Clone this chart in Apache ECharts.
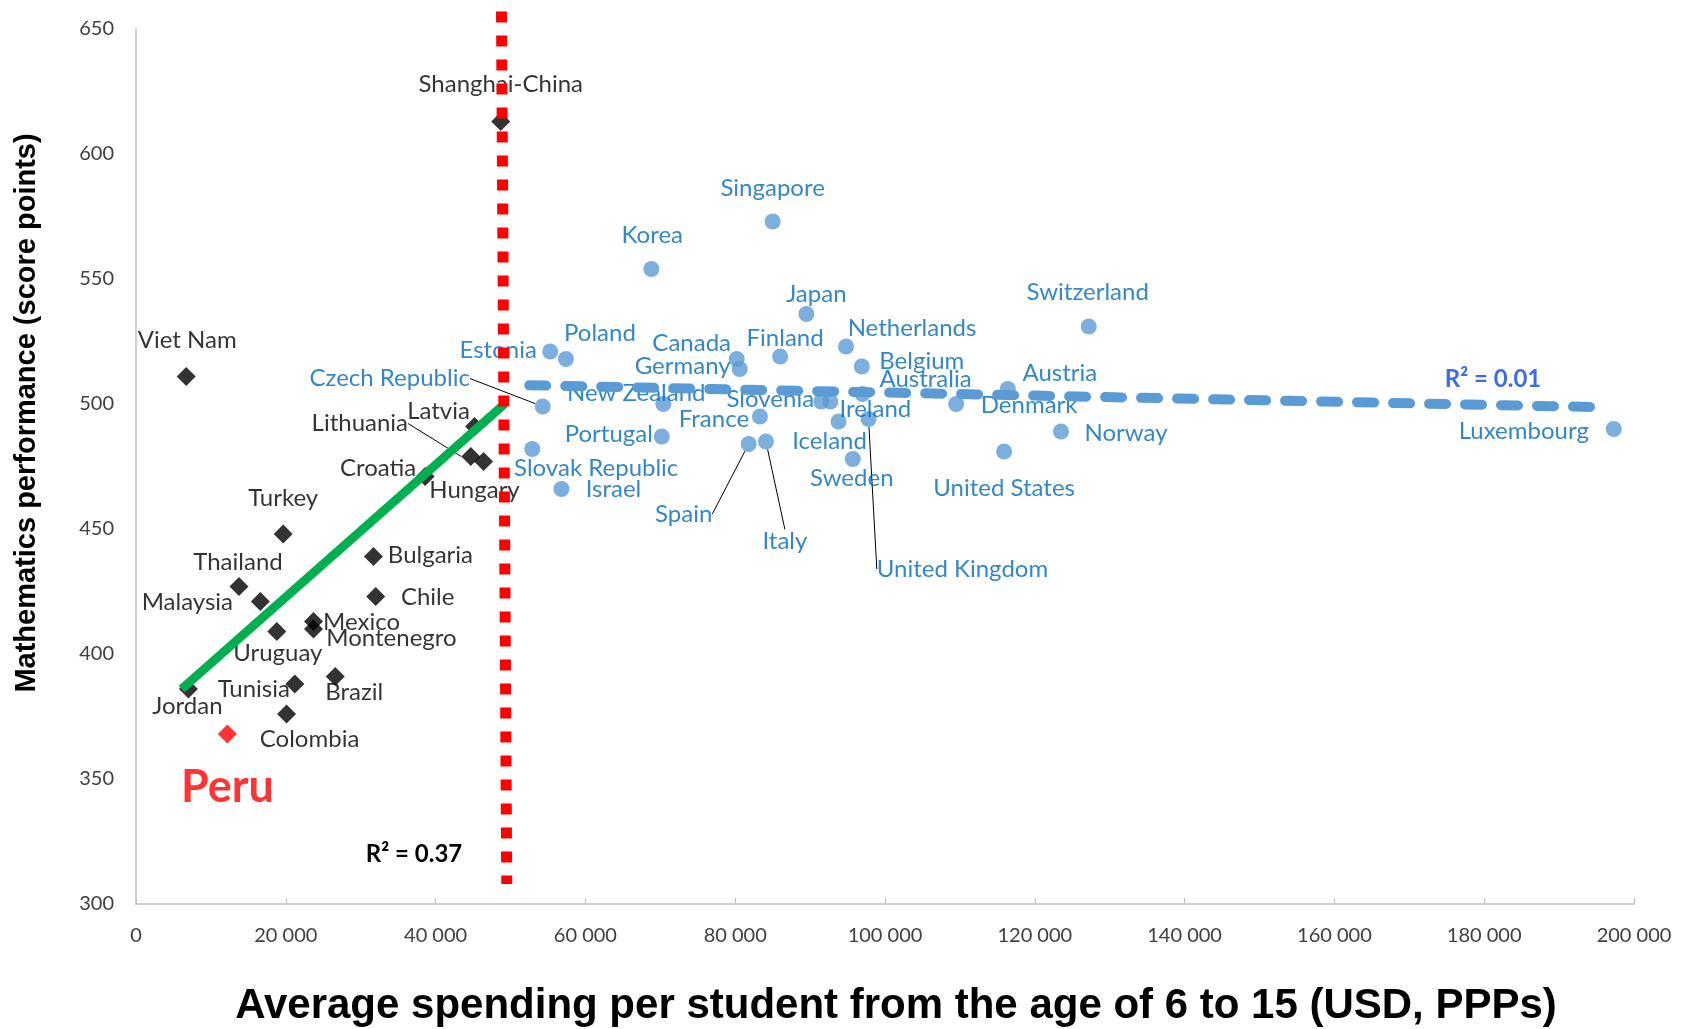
<!DOCTYPE html>
<html>
<head>
<meta charset="utf-8">
<title>Maths performance vs spending per student</title>
<script src="https://cdn.jsdelivr.net/npm/echarts@6/dist/echarts.min.js"></script>
<style>
  html, body { margin: 0; padding: 0; background: #fff; }
  #chart { width: 1690px; height: 1029px; }
</style>
</head>
<body>
<div id="chart"></div>
<script>
// countries above the spending threshold (blue dots)
const blueNames = ['Singapore', 'Korea', 'Japan', 'Switzerland', 'Netherlands', 'Estonia', 'Poland', 'Canada',
  'Finland', 'Germany', 'Belgium', 'Australia', 'Austria', 'Czech Republic', 'New Zealand', 'Slovenia', 'Ireland',
  'Denmark', 'France', 'Portugal', 'United Kingdom', 'Iceland', 'Norway', 'Luxembourg', 'Slovak Republic', 'Israel',
  'Sweden', 'United States', 'Spain', 'Italy'];
const blueSpend = [85000, 68800, 89500, 127200, 94800, 55300, 57400, 80200,
  86000, 80600, 96900, 97000, 116400, 54300, 70400, 91500, 92700,
  109500, 83300, 70200, 97800, 93800, 123500, 197300, 52900, 56800,
  95700, 115900, 81800, 84100];
const blueMath = [573, 554, 536, 531, 523, 521, 518, 518,
  519, 514, 515, 504, 506, 499, 500, 501, 501,
  500, 495, 487, 494, 493, 489, 490, 482, 466,
  478, 481, 484, 485];

// countries below the threshold (black diamonds)
const blackNames = ['Shanghai-China', 'Viet Nam', 'Latvia', 'Lithuania', 'Hungary', 'Croatia', 'Turkey', 'Thailand',
  'Malaysia', 'Uruguay', 'Mexico', 'Montenegro', 'Bulgaria', 'Chile', 'Brazil', 'Tunisia', 'Jordan', 'Colombia'];
const blackSpend = [48700, 6700, 45200, 44700, 46400, 38600, 19650, 13750,
  16600, 18800, 23700, 23700, 31700, 32000, 26600, 21200, 7000, 20100];
const blackMath = [613, 511, 491, 479, 477, 471, 448, 427,
  421, 409, 413, 410, 439, 423, 391, 388, 386, 376];

const peruSpend = [12200];
const peruMath = [368];

// trend lines and threshold
const lowTrend = [[6100, 386], [49200, 500]];
const highTrend = [[52500, 507.5], [196000, 498.7]];
const threshold = [[48800, 657], [49500, 308]];

const xTicks = { min: 0, max: 200000, step: 20000 };
const yTicks = { min: 300, max: 650, step: 50 };

// label placement (px offsets from the marker)
const labelOffset = {
  'Shanghai-China': [0, -37], 'Viet Nam': [1, -36], 'Latvia': [-36, -15], 'Lithuania': [-111, -33],
  'Hungary': [-9, 29], 'Croatia': [-47, -8], 'Turkey': [0, -36], 'Thailand': [-1, -24],
  'Malaysia': [-73, 1], 'Uruguay': [1, 22], 'Mexico': [48, 1], 'Montenegro': [78, 9],
  'Bulgaria': [57, -1], 'Chile': [52, 1], 'Brazil': [19, 16], 'Tunisia': [-41, 5],
  'Jordan': [-1, 17], 'Colombia': [23, 25],
  'Singapore': [0, -33], 'Korea': [1, -34], 'Japan': [10, -20], 'Switzerland': [-1, -34],
  'Netherlands': [66, -18], 'Estonia': [-52, -1], 'Poland': [34, -26], 'Canada': [-45, -16],
  'Finland': [5, -18], 'Germany': [-57, -3], 'Belgium': [60, -5], 'Australia': [63, -15],
  'Austria': [52, -16], 'Czech Republic': [-153, -28], 'New Zealand': [-27, -11], 'Slovenia': [-51, -2],
  'Ireland': [45, 8], 'Denmark': [73, 1], 'France': [-46, 3], 'Portugal': [-53, -2],
  'United Kingdom': [94, 150], 'Iceland': [-9, 20], 'Norway': [65, 2], 'Luxembourg': [-90, 2],
  'Slovak Republic': [64, 19], 'Israel': [52, 0], 'Sweden': [-1, 19], 'United States': [0, 37],
  'Spain': [-65, 70], 'Italy': [19, 100]
};
const leaderLines = ['Czech Republic', 'Lithuania', 'Spain', 'Italy', 'United Kingdom'];

const FONT = 'Lato, "Open Sans", sans-serif';
const TITLE_FONT = '"Liberation Sans", Arial, sans-serif';

const toPoints = (names, xs, ys) => names.map((n, i) => ({
  name: n,
  value: [xs[i], ys[i]],
  labelLine: { show: leaderLines.includes(n), length2: 0 }
}));

const layoutFor = (names) => (params) => {
  const off = labelOffset[names[params.dataIndex]] || [0, 0];
  return { dx: off[0], dy: off[1] };
};

const fmtThousands = (v) => String(v).replace(/\B(?=(\d{3})+(?!\d))/g, ' ');

const chart = echarts.init(document.getElementById('chart'));

const option = {
  animation: false,
  grid: { left: 136, right: 56, top: 29, bottom: 125 },
  xAxis: {
    type: 'value',
    min: xTicks.min, max: xTicks.max, interval: xTicks.step,
    axisLine: { lineStyle: { color: '#BFBFBF', width: 1.5 } },
    axisTick: { show: true, inside: true, length: 6, lineStyle: { color: '#BFBFBF' } },
    splitLine: { show: false },
    axisLabel: { formatter: fmtThousands, color: '#404040', fontFamily: FONT, fontSize: 20, margin: 22 }
  },
  yAxis: {
    type: 'value',
    min: yTicks.min, max: yTicks.max, interval: yTicks.step,
    axisLine: { show: true, lineStyle: { color: '#BFBFBF', width: 1.5 } },
    axisTick: { show: false },
    splitLine: { show: false },
    axisLabel: { color: '#404040', fontFamily: FONT, fontSize: 20, margin: 22 }
  },
  graphic: [
    {
      type: 'text', x: 27, y: 413, rotation: Math.PI / 2,
      style: {
        text: 'Mathematics performance (score points)', align: 'center', verticalAlign: 'middle',
        fontFamily: TITLE_FONT, fontWeight: 'bold', fontSize: 29, fill: '#000'
      }
    },
    {
      type: 'text', x: 896, y: 1006,
      style: {
        text: 'Average spending per student from the age of 6 to 15 (USD, PPPs)', align: 'center', verticalAlign: 'middle',
        fontFamily: TITLE_FONT, fontWeight: 'bold', fontSize: 42, fill: '#000'
      }
    },
    {
      type: 'text', x: 414, y: 854, z: 10,
      style: { text: 'R² = 0.37', align: 'center', verticalAlign: 'middle', fontFamily: FONT, fontWeight: 'bold', fontSize: 24, fill: '#000' }
    },
    {
      type: 'text', x: 1493, y: 379, z: 10,
      style: { text: 'R² = 0.01', align: 'center', verticalAlign: 'middle', fontFamily: FONT, fontWeight: 'bold', fontSize: 24, fill: '#3D6DE6' }
    }
  ],
  series: [
    {
      name: 'High spending',
      type: 'scatter',
      z: 1,
      symbol: 'circle',
      symbolSize: 16,
      itemStyle: { color: '#5B9BD5' },
      data: toPoints(blueNames, blueSpend, blueMath),
      label: {
        show: true, position: 'inside', formatter: '{b}', color: '#0068BA',
        fontFamily: FONT, fontSize: 24, align: 'center', verticalAlign: 'middle'
      },
      labelLine: { lineStyle: { color: '#000', width: 1 } },
      labelLayout: layoutFor(blueNames)
    },
    {
      name: 'Low spending',
      type: 'scatter',
      z: 1,
      symbol: 'diamond',
      symbolSize: 19,
      itemStyle: { color: '#000' },
      data: toPoints(blackNames, blackSpend, blackMath),
      label: {
        show: true, position: 'inside', formatter: '{b}', color: '#000',
        fontFamily: FONT, fontSize: 24, align: 'center', verticalAlign: 'middle'
      },
      labelLine: { lineStyle: { color: '#000', width: 1 } },
      labelLayout: layoutFor(blackNames)
    },
    {
      name: 'Peru',
      type: 'scatter',
      z: 1,
      symbol: 'diamond',
      symbolSize: 19,
      itemStyle: { color: '#FF0000' },
      data: peruSpend.map((x, i) => ({ name: 'Peru', value: [x, peruMath[i]] })),
      label: {
        show: true, position: 'inside', formatter: '{b}', color: '#FF0000',
        fontFamily: FONT, fontWeight: 'bold', fontSize: 45, align: 'center', verticalAlign: 'middle'
      },
      labelLayout: { dx: 0, dy: 53 }
    },
    {
      name: 'Trend low',
      type: 'line',
      z: 3,
      data: lowTrend,
      showSymbol: false,
      lineStyle: { color: '#00B050', width: 9 }
    },
    {
      name: 'Trend high',
      type: 'line',
      z: 3,
      data: highTrend,
      showSymbol: false,
      lineStyle: { color: '#5B9BD5', width: 10, type: [17, 19], cap: 'round' }
    },
    {
      name: 'Threshold',
      type: 'line',
      z: 4,
      clip: false,
      data: threshold,
      showSymbol: false,
      lineStyle: { color: '#FF0000', width: 11, type: [11, 13] }
    }
  ]
};

chart.setOption(option);
window.addEventListener('resize', () => {
  chart.resize();
});
</script>
</body>
</html>
